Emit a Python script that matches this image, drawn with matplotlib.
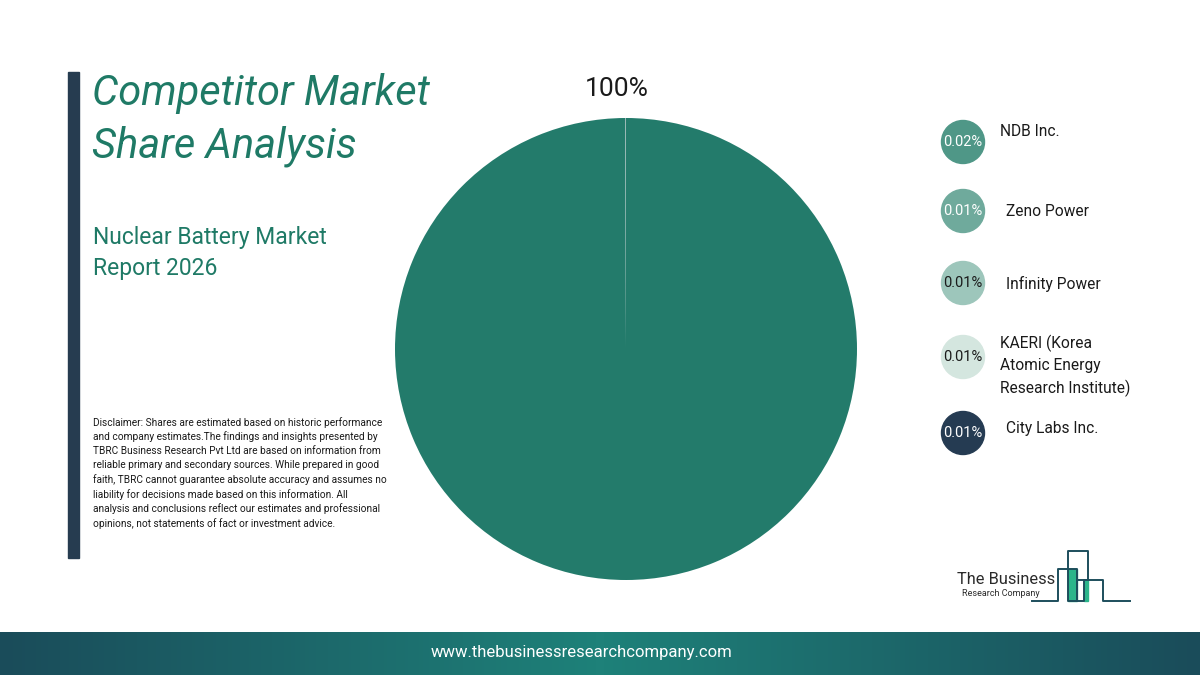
import numpy as np
import matplotlib.pyplot as plt
from matplotlib.patches import Rectangle, Circle
from matplotlib.colors import LinearSegmentedColormap

plt.rcParams['font.family'] = ['Roboto', 'DejaVu Sans']

# data
companies = ['NDB Inc.', 'Zeno Power', 'Infinity Power',
             'KAERI (Korea\nAtomic Energy\nResearch Institute)', 'City Labs Inc.']
shares = [0.02, 0.01, 0.01, 0.01, 0.01]
rest_share = 100 - sum(shares)
colors = ['#4f9787', '#6faa9c', '#9dc6bb', '#d4e6df', '#253b52']
label_colors = ['white', 'white', '#1a1a1a', '#1a1a1a', 'white']
main_color = '#237b6b'

W, H = 1200, 675
fig = plt.figure(figsize=(12, 6.75), dpi=100)
fig.patch.set_facecolor('white')

# overlay axes in pixel coords
bg = fig.add_axes([0, 0, 1, 1])
bg.axis('off')

# left bar
bg.add_patch(Rectangle((68, 72), 11, 486, color='#263c50'))

# titles
bg.text(92, 120, 'Competitor Market\nShare Analysis', fontsize=30, style='italic',
        color='#1f7a66', va='center', ha='left', linespacing=1.37)
bg.text(93, 253, 'Nuclear Battery Market\nReport 2026', fontsize=16.5,
        color='#1f7a66', va='center', ha='left', linespacing=1.46)

disclaimer = ("Disclaimer: Shares are estimated based on historic performance\n"
              "and company estimates.The findings and insights presented by\n"
              "TBRC Business Research Pvt Ltd are based on information from\n"
              "reliable primary and secondary sources. While prepared in good\n"
              "faith, TBRC cannot guarantee absolute accuracy and assumes no\n"
              "liability for decisions made based on this information. All\n"
              "analysis and conclusions reflect our estimates and professional\n"
              "opinions, not statements of fact or investment advice.")
bg.text(93, 473, disclaimer, fontsize=7.3, color='#1a1a1a', va='center',
        ha='left', linespacing=1.45)

# pie
pax = fig.add_axes([395 / W, (H - 580) / H, 462 / W, 462 / H])
vals = [rest_share] + shares
pax.pie(vals, colors=[main_color] + colors, startangle=90, counterclock=False,
        wedgeprops=dict(edgecolor='none'))
pax.set_xlim(-1, 1)
pax.set_ylim(-1, 1)
pax.set_aspect('equal')
pax.text(-0.04, 1.125, f'{rest_share / sum(vals) * 100:.0f}%', fontsize=19,
         ha='center', va='center', color='#1a1a1a')

# legend
cy = [142, 211, 283, 357, 433]
ty = [131, 211, 284, 366, 428]
tx = [1000, 1006, 1006, 1000, 1006]
for i, name in enumerate(companies):
    bg.add_patch(Circle((963, cy[i]), 21.5, color=colors[i]))
    bg.text(963, cy[i], f'{shares[i]:.2f}%', fontsize=10.5, color=label_colors[i],
            ha='center', va='center')
    bg.text(tx[i], ty[i], name, fontsize=11.2, color='#1a1a1a', ha='left',
            va='center', linespacing=1.5)

# logo
bg.text(957, 580, 'The Business', fontsize=11.8, color='#2a2a2a', ha='left', va='center')
bg.text(962, 593, 'Research Company', fontsize=6.5, color='#2a2a2a', ha='left', va='center')
bg.add_patch(Rectangle((1068, 569), 9, 32, color='#2bb58a'))
bg.add_patch(Rectangle((1084, 580), 4, 21, color='#2bb58a'))
lx = [1032, 1058, 1058, 1068, 1068, 1088, 1088, 1077, 1077, 1068, 1068, 1077,
      1077, 1084, 1084, 1103, 1103, 1130]
ly = [601, 601, 569, 569, 551, 551, 580, 580, 601, 601, 569, 569,
      601, 601, 580, 580, 601, 601]
bg.plot(lx, ly, color='#1d4e5c', lw=1.4)

# footer gradient band
grad = np.abs(np.linspace(-1, 1, 400))
bg.imshow(grad[np.newaxis, :], extent=(0, W, 675, 632), aspect='auto',
          cmap=LinearSegmentedColormap.from_list('f', ['#1e8179', '#1a4c5a']),
          zorder=0)
bg.set_xlim(0, W)
bg.set_ylim(H, 0)
bg.text(582, 653, 'www.thebusinessresearchcompany.com', fontsize=12,
        color='white', ha='center', va='center')

fig.savefig('out.png', dpi=100)
